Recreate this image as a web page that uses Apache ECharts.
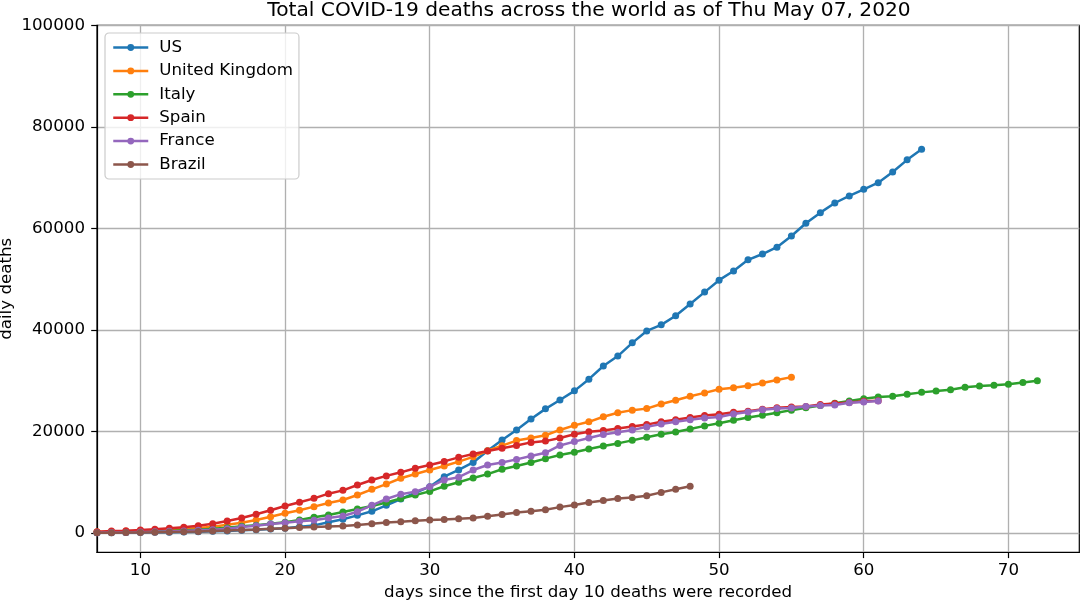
<!DOCTYPE html>
<html><head><meta charset="utf-8">
<style>html,body{margin:0;padding:0;background:#fff}#c{width:1080px;height:600px}</style>
<script src="https://cdn.jsdelivr.net/npm/echarts@6/dist/echarts.min.js"></script>
</head><body><div id="c"></div>
<script>
const firstDay = 7;
const xTicks = [10,20,30,40,50,60,70];
const yTicks = [0,20000,40000,60000,80000,100000];
const US = [50,60,90,100,130,170,200,260,330,400,525,650,790,920,1250,1500,2100,2700,3480,4270,5450,6700,7900,9130,11100,12420,13900,16200,18300,20300,22470,24450,26200,28000,30300,32900,34850,37450,39800,41000,42800,45100,47450,49800,51600,53800,54950,56300,58500,61000,63100,65000,66400,67700,69000,71100,73500,75600];
const UK = [200,260,330,390,460,590,790,985,1250,1640,2040,2560,3220,3880,4470,5190,5900,6500,7490,8600,9640,10780,11630,12420,13200,14050,15000,16200,17200,18200,18700,19250,20300,21200,21900,22900,23700,24200,24500,25400,26150,26950,27600,28300,28600,29000,29550,30150,30700];
const Italy = [100,130,170,230,300,400,525,650,850,1050,1310,1510,1840,2100,2560,3090,3550,4140,4730,5320,6000,6800,7500,8200,9200,10000,10850,11600,12550,13200,13900,14650,15350,15900,16550,17150,17650,18250,18850,19450,19880,20500,21100,21600,22200,22750,23200,23700,24200,24650,25100,25550,26000,26450,26800,26950,27350,27700,27950,28200,28700,28950,29100,29300,29650,30000];
const Spain = [260,390,460,590,720,920,1120,1450,1840,2370,2950,3680,4470,5320,6050,6830,7750,8400,9460,10450,11250,11950,12750,13400,14100,14900,15550,16150,16700,17250,17850,18100,18700,19450,19950,20200,20600,21000,21350,21900,22300,22750,23150,23400,23800,24000,24400,24650,24800,24900,25300,25500,25700,25950,26050];
const France = [60,90,120,200,260,330,400,525,650,850,1180,1450,1770,2040,2300,2500,2960,3350,4200,5450,6700,7650,8150,9100,10450,11000,12400,13400,13900,14500,15150,15800,17250,18000,18700,19400,19850,20300,20900,21450,21900,22300,22650,22850,23450,23850,24300,24500,24600,24900,25100,25200,25650,25800,26000];
const Brazil = [40,60,80,110,140,190,240,300,400,500,600,700,850,950,1100,1200,1300,1400,1600,1800,2050,2200,2400,2550,2650,2800,2950,3300,3650,4050,4300,4600,5100,5500,6000,6400,6800,7000,7350,8000,8600,9200];
const names = ['US','United Kingdom','Italy','Spain','France','Brazil'];
const lists = [US,UK,Italy,Spain,France,Brazil];
const colors = ['#1f77b4','#ff7f0e','#2ca02c','#d62728','#9467bd','#8c564b'];
const font = 'DejaVu Sans';
const plain = v => String(v);
const chart = echarts.init(document.getElementById('c'), null, {renderer:'canvas'});
chart.setOption({
  animation:false,
  backgroundColor:'#fff',
  textStyle:{fontFamily:font},
  title:{text:'Total COVID-19 deaths across the world as of Thu May 07, 2020',left:584,top:-4,textAlign:'center',
    textStyle:{fontFamily:font,fontSize:20.2,fontWeight:'normal',color:'#000'}},
  grid:{left:97,right:0.7,top:25.3,bottom:47.7,show:true,borderColor:'#000',borderWidth:1.2,backgroundColor:'transparent',outerBoundsMode:'none',containLabel:false},
  legend:{left:105,top:33,orient:'vertical',itemWidth:35,itemHeight:8.5,itemGap:6.4,padding:[6,6,6,7],
    backgroundColor:'rgba(255,255,255,0.8)',borderColor:'#ccc',borderWidth:1.2,borderRadius:4,
    lineStyle:{width:2.5},
    textStyle:{fontFamily:font,fontSize:16.67,color:'#000',padding:[0,0,0,6]},data:names},
  xAxis:{type:'value',min:7,max:74.9,
    name:'days since the first day 10 deaths were recorded',nameLocation:'middle',nameGap:32,nameMoveOverlap:false,
    nameTextStyle:{fontFamily:font,fontSize:16.67,color:'#000'},
    axisLine:{show:true,onZero:false,lineStyle:{color:'#000',width:1.2}},
    axisTick:{show:true,length:5.8,customValues:xTicks,lineStyle:{color:'#000',width:1.2}},
    axisLabel:{customValues:xTicks,formatter:plain,color:'#000',fontFamily:font,fontSize:16.67,margin:10,showMinLabel:true,showMaxLabel:true},
    splitLine:{show:true,customValues:xTicks,lineStyle:{color:'#b0b0b0',width:1.33}}},
  yAxis:{type:'value',min:-3800,max:100000,
    name:'daily deaths',nameLocation:'middle',nameGap:82,nameMoveOverlap:false,
    nameTextStyle:{fontFamily:font,fontSize:16.67,color:'#000'},
    axisLine:{show:true,onZero:false,lineStyle:{color:'#000',width:1.2}},
    axisTick:{show:true,length:5.8,customValues:yTicks,lineStyle:{color:'#000',width:1.2}},
    axisLabel:{customValues:yTicks,formatter:plain,color:'#000',fontFamily:font,fontSize:16.67,margin:12,padding:[3,0,0,0],showMinLabel:true,showMaxLabel:true},
    splitLine:{show:true,customValues:yTicks.slice(0,-1),lineStyle:{color:'#b0b0b0',width:1.33}}},
  series:names.map((n,i)=>({
    name:n,type:'line',
    data:lists[i].map((v,k)=>[firstDay+k,v]),
    symbol:'circle',symbolSize:7,showSymbol:true,showAllSymbol:true,
    lineStyle:{width:2.5,color:colors[i]},itemStyle:{color:colors[i]},
    clip:true,z:2+i}))
});
</script></body></html>
